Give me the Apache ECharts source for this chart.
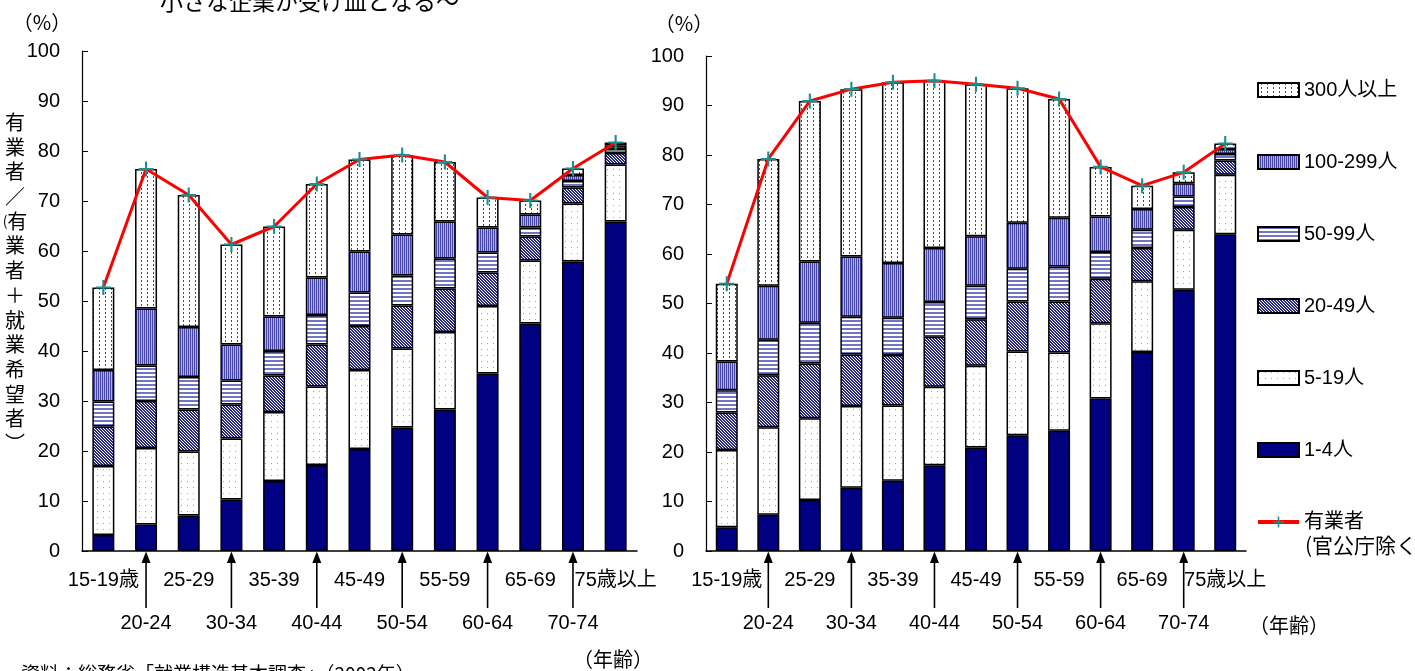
<!DOCTYPE html>
<html><head><meta charset="utf-8">
<script src="https://cdn.jsdelivr.net/npm/echarts@6/dist/echarts.min.js"></script>
<style>html,body{margin:0;padding:0;background:#fff}#c{width:1415px;height:671px}</style>
</head><body><div id="c"></div>
<script>
const categories = ['15-19歳','20-24','25-29','30-34','35-39','40-44','45-49','50-54','55-59','60-64','65-69','70-74','75歳以上'];
const sizeNames = ['1-4人','5-19人','20-49人','50-99人','100-299人','300人以上'];
const lineName = '有業者';
const yTicks = [0,10,20,30,40,50,60,70,80,90,100];

// left chart: 有業者／（有業者＋就業希望者）, by firm size (segment values, %)
const left_1_4     = [3.2, 5.3, 7.1, 10.3, 14.0, 17.2, 20.4, 24.7, 28.3, 35.5, 45.5, 57.9, 65.9];
const left_5_19    = [13.8, 15.3, 12.8, 12.2, 13.8, 15.7, 15.8, 15.8, 15.5, 13.5, 12.6, 11.6, 11.4];
const left_20_49   = [7.9, 9.4, 8.4, 6.8, 7.3, 8.4, 8.8, 8.6, 8.7, 6.7, 4.8, 3.2, 2.3];
const left_50_99   = [5.0, 7.1, 6.5, 4.8, 4.9, 5.9, 6.7, 6.0, 6.0, 4.0, 1.8, 1.3, 0.8];
const left_100_299 = [6.3, 11.4, 10.0, 7.2, 6.9, 7.5, 8.2, 8.2, 7.4, 5.0, 2.6, 1.2, 0.7];
const left_300     = [16.5, 27.9, 26.4, 20.0, 18.0, 18.7, 18.4, 15.9, 11.9, 6.0, 2.8, 1.3, 0.6];
const left_total   = [52.7, 76.4, 71.2, 61.3, 64.9, 73.4, 78.3, 79.2, 77.8, 70.7, 70.1, 76.5, 81.7];

// right chart
const right_1_4     = [4.8, 7.3, 10.3, 12.8, 14.2, 17.3, 20.9, 23.4, 24.3, 30.8, 40.2, 52.8, 64.0];
const right_5_19    = [15.6, 17.7, 16.5, 16.5, 15.2, 15.9, 16.5, 16.9, 15.8, 15.2, 14.3, 12.1, 12.0];
const right_20_49   = [7.6, 10.5, 11.1, 10.4, 10.2, 10.1, 9.4, 10.1, 10.3, 9.0, 6.7, 4.6, 2.9];
const right_50_99   = [4.5, 7.2, 8.2, 7.6, 7.5, 7.0, 6.8, 6.6, 7.1, 5.4, 3.7, 2.1, 1.3];
const right_100_299 = [5.8, 10.9, 12.4, 12.2, 11.1, 10.9, 10.0, 9.3, 9.8, 7.2, 4.2, 2.7, 1.0];
const right_300     = [15.7, 25.6, 32.4, 33.8, 36.5, 33.8, 30.7, 27.2, 24.0, 10.0, 4.7, 2.2, 1.1];
const right_total   = [54.0, 79.2, 90.9, 93.3, 94.7, 95.0, 94.3, 93.5, 91.3, 77.6, 73.8, 76.5, 82.3];

const arrowIdx = [1,3,5,7,9,11];

function pat(w, h, draw) {
  const c = document.createElement('canvas');
  c.width = w; c.height = h;
  const g = c.getContext('2d');
  g.fillStyle = '#fff'; g.fillRect(0,0,w,h);
  draw(g);
  return {image: c, repeat: 'repeat'};
}
const fills = [
  '#000080',
  pat(6,6,g=>{g.fillStyle='#9c9cc4';g.fillRect(1,1,1,1);}),
  pat(3,3,g=>{g.fillStyle='#26268f';[[0,0],[1,0],[1,1],[2,1],[2,2],[0,2]].forEach(p=>g.fillRect(p[0],p[1],1,1));}),
  pat(1,4,g=>{g.fillStyle='#7474c4';g.fillRect(0,0,1,2);}),
  pat(2,1,g=>{g.fillStyle='#4646a8';g.fillRect(0,0,1,1);g.fillStyle='#b0b0e2';g.fillRect(1,0,1,1);}),
  pat(6,4,g=>{g.fillStyle='#3c3cc0';g.fillRect(3,0,1,2);})
];

const FONT = "'Liberation Sans', 'Noto Sans CJK JP', sans-serif";
const CJK = "'Noto Sans CJK JP', sans-serif";
const leftData = [left_1_4, left_5_19, left_20_49, left_50_99, left_100_299, left_300];
const rightData = [right_1_4, right_5_19, right_20_49, right_50_99, right_100_299, right_300];

const plus = 'path://M4.3,0H5.7V4.3H10V5.7H5.7V10H4.3V5.7H0V4.3H4.3Z';

function xAxis(gi){
  return {
    type:'category', gridIndex: gi, data: categories,
    axisLine:{lineStyle:{color:'#000', width:1.5}},
    axisTick:{inside:true, length:5, lineStyle:{color:'#000'}},
    axisLabel:{
      interval:0, margin:8, color:'#000', fontSize:20, fontFamily:FONT, lineHeight:43,
      formatter:(v,i)=> (i%2===1 ? '\n'+v : v)
    }
  };
}
function yAxis(gi){
  return {
    type:'value', gridIndex: gi, min:0, max:100, interval:10,
    axisLine:{show:true, lineStyle:{color:'#000', width:1.2}},
    axisTick:{show:true, inside:true, length:6, lineStyle:{color:'#000'}},
    splitLine:{show:false},
    axisLabel:{margin:22, color:'#000', fontSize:20, fontFamily:FONT}
  };
}

const series = [];
[leftData, rightData].forEach((arrs, gi) => {
  arrs.forEach((arr, k) => {
    series.push({
      name: sizeNames[k], type:'bar', stack: gi===0?'L':'R',
      xAxisIndex: gi, yAxisIndex: gi, barWidth: 22, data: arr,
      itemStyle:{color: fills[k], borderColor:'#000', borderWidth:1.5}
    });
  });
  series.push({
    name: lineName, type:'line', xAxisIndex: gi, yAxisIndex: gi,
    data: gi===0 ? left_total : right_total, z: 10,
    symbol: plus, symbolSize: 15,
    lineStyle:{color:'#ff0000', width:3},
    itemStyle:{color:'#1a9090'}
  });
  series.push({
    type:'custom', xAxisIndex: gi, yAxisIndex: gi, silent:true, clip:false,
    data: arrowIdx.map(i=>[i,0]),
    renderItem:(params, api)=>{
      const p = api.coord([api.value(0), 0]);
      return {type:'group', children:[
        {type:'line', shape:{x1:p[0], y1:p[1]+10, x2:p[0], y2:p[1]+57}, style:{stroke:'#000', lineWidth:1.6}},
        {type:'polygon', shape:{points:[[p[0],p[1]+0.5],[p[0]-4.5,p[1]+12],[p[0]+4.5,p[1]+12]]}, style:{fill:'#000'}}
      ]};
    }
  });
});

const chart = echarts.init(document.getElementById('c'), null, {renderer:'canvas'});
chart.setOption({
  animation:false,
  grid:[
    {left:82, top:51, width:555, height:500},
    {left:706, top:56, width:540, height:495}
  ],
  xAxis:[xAxis(0), xAxis(1)],
  yAxis:[yAxis(0), yAxis(1)],
  legend:{
    orient:'vertical', left:1251, top:75, itemWidth:41, itemHeight:14, itemGap:52,
    textStyle:{fontSize:20, lineHeight:20, fontFamily:FONT, color:'#000'},
    data:[
      {name:'300人以上', icon:'rect'},
      {name:'100-299人', icon:'rect'},
      {name:'50-99人', icon:'rect'},
      {name:'20-49人', icon:'rect'},
      {name:'5-19人', icon:'rect'},
      {name:'1-4人', icon:'rect'},
      {name: lineName, lineStyle:{width:4, color:'#ff0000'}}
    ]
  },
  graphic:[
    {type:'text', x:160, y:1, style:{text:'小さな企業が受け皿となる～', font:"23px "+CJK, fill:'#000', verticalAlign:'middle'}},
    {type:'text', x:42, y:22, style:{text:'（%）', font:"20px "+CJK, fill:'#000', align:'center', verticalAlign:'middle'}},
    {type:'text', x:684, y:23, style:{text:'（%）', font:"20px "+CJK, fill:'#000', align:'center', verticalAlign:'middle'}},
    {type:'text', x:15, y:110, style:{text:'有\n業\n者\n／\n{p|(}有\n業\n者\n＋\n就\n業\n希\n望\n者\n︶', font:"20px "+CJK, lineHeight:24.7, fill:'#000', align:'center', verticalAlign:'top', rich:{p:{fontSize:14, fontFamily:CJK}}}},
    {type:'text', x:1305, y:545, style:{text:'(官公庁除く)', font:"21px "+CJK, fill:'#000', verticalAlign:'middle'}},
    {type:'text', x:613, y:659, style:{text:'（年齢）', font:"20px "+CJK, fill:'#000', align:'center', verticalAlign:'middle'}},
    {type:'text', x:1289, y:625, style:{text:'（年齢）', font:"20px "+CJK, fill:'#000', align:'center', verticalAlign:'middle'}},
    {type:'text', x:21, y:674, style:{text:'資料：総務省「就業構造基本調査」（2002年）', font:"19px "+CJK, fill:'#000', verticalAlign:'middle'}}
  ],
  series: series
});
</script></body></html>
